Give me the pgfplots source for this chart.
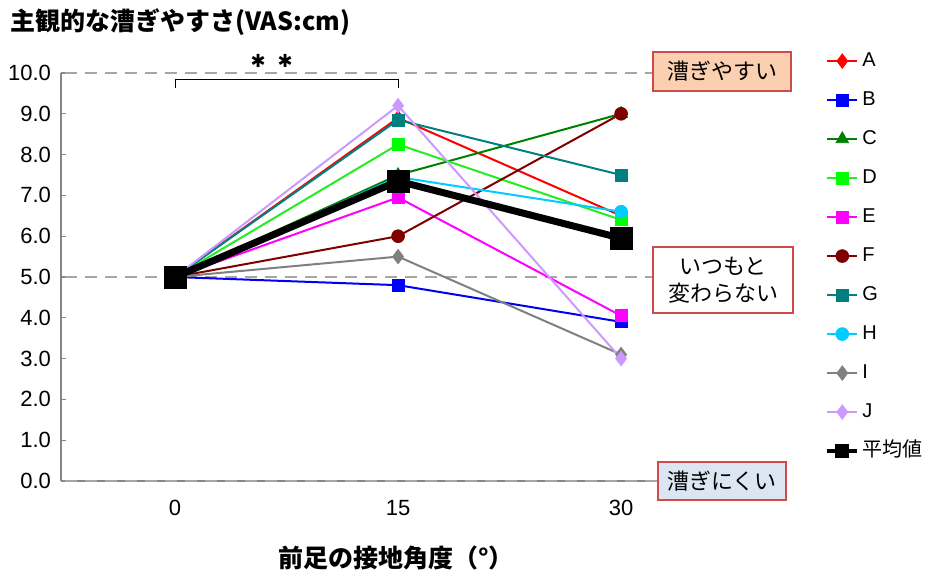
\documentclass[border=0pt]{standalone}
\usepackage{fontspec}
\setmainfont{Liberation Sans}
\newfontfamily\cjk{Noto Sans CJK JP}
\newfontfamily\dejavu{DejaVu Sans}
\usepackage{pgfplots}
\pgfplotsset{compat=1.18}
\usetikzlibrary{plotmarks}
\definecolor{cA}{HTML}{FF0000}
\definecolor{cB}{HTML}{0000EE}
\definecolor{cC}{HTML}{008000}
\definecolor{cD}{HTML}{22EE22}
\definecolor{cDm}{HTML}{00FF00}
\definecolor{cE}{HTML}{FF00FF}
\definecolor{cF}{HTML}{800000}
\definecolor{cG}{HTML}{008080}
\definecolor{cH}{HTML}{00CCFF}
\definecolor{cI}{HTML}{808080}
\definecolor{cJ}{HTML}{CC99FF}
\definecolor{dashgray}{HTML}{A6A6A6}
\definecolor{axgray}{HTML}{868686}
\definecolor{boxred}{HTML}{D04A4A}
\definecolor{boxorange}{HTML}{FBD0B0}
\definecolor{boxblue}{HTML}{DCE6F2}
\begin{document}
\begin{tikzpicture}
\path[use as bounding box] (0,0) rectangle (462.5pt,287pt);
\begin{axis}[
  at={(30.5pt,46.5pt)}, anchor=south west,
  scale only axis, width=297pt, height=204pt,
  xmin=-7.67, xmax=32.28, ymin=0, ymax=10,
  axis x line*=bottom, axis y line*=left,
  axis line style={draw=axgray, line width=1pt, -},
  xtick={0,15,30},
  ytick={0,1,...,10},
  /pgf/number format/assume math mode=true,
  yticklabel={\pgfmathprintnumber[fixed,fixed zerofill,precision=1]{\tick}},
  tick label style={font=\fontsize{11}{13}\selectfont},
  xticklabel style={yshift=-6pt},
  yticklabel style={xshift=-1.5pt},
  tick align=inside, major tick length=2.5pt,
  ytick style={draw=axgray, line width=0.6pt},
  xtick style={draw=none},
  clip=false,
  legend style={at={(1.286,1.078)}, anchor=north west, draw=none, fill=none,
    inner sep=0pt, row sep=0pt, font=\fontsize{10}{11}\selectfont,
    nodes={inner sep=0pt, inner xsep=1.5pt, text height=12.4pt, text depth=7.1pt}},
  legend cell align=left,
  legend image code/.code={\draw[mark repeat=2,mark phase=2,#1] plot coordinates {(0pt,0pt) (7.5pt,0pt) (15pt,0pt)};},
]
% reference lines
\draw[dashgray, line width=1.3pt, dash pattern=on 6pt off 4pt] (axis cs:-7.4,10) -- (axis cs:32.15,10);
\draw[dashgray, line width=1.3pt, dash pattern=on 6pt off 4pt] (axis cs:-7.4,5) -- (axis cs:32.15,5);
\draw[dashgray, line width=1.3pt, dash pattern=on 6pt off 4pt] (axis cs:-7.4,0) -- (axis cs:32.45,0);
% bracket
\draw[black, line width=0.5pt] (axis cs:0,9.63) -- (axis cs:0,9.83) -- (axis cs:15,9.83) -- (axis cs:15,9.63);
\node[font=\dejavu\fontsize{9}{11}\selectfont] at (axis cs:6.5,10.3) {✱\hspace{6pt}✱};

\addplot[cA, line width=1pt, mark=diamond*, mark size=3.6pt, mark options={line width=0.4pt}] coordinates {(0,5) (15,8.9) (30,6.5)};
\addlegendentry{A}
\addplot[cB, line width=1pt, mark=square*, mark size=3pt, mark options={line width=0.4pt, fill=blue, draw=blue}] coordinates {(0,5) (15,4.8) (30,3.9)};
\addlegendentry{B}
\addplot[cC, line width=1pt, mark=triangle*, mark size=3.6pt, mark options={line width=0.4pt}] coordinates {(0,5) (15,7.5) (30,9.0)};
\addlegendentry{C}
\addplot[cD, line width=1pt, mark=square*, mark size=3pt, mark options={line width=0.4pt, fill=cDm, draw=cDm}] coordinates {(0,5) (15,8.25) (30,6.4)};
\addlegendentry{D}
\addplot[cE, line width=1pt, mark=square*, mark size=3pt, mark options={line width=0.4pt}] coordinates {(0,5) (15,6.95) (30,4.05)};
\addlegendentry{E}
\addplot[cF, line width=1pt, mark=*, mark size=3.2pt, mark options={line width=0.4pt}] coordinates {(0,5) (15,6.0) (30,9.0)};
\addlegendentry{F}
\addplot[cG, line width=1pt, mark=square*, mark size=3pt, mark options={line width=0.4pt}] coordinates {(0,5) (15,8.85) (30,7.5)};
\addlegendentry{G}
\addplot[cH, line width=1pt, mark=*, mark size=3.2pt, mark options={line width=0.4pt}] coordinates {(0,5) (15,7.45) (30,6.6)};
\addlegendentry{H}
\addplot[cI, line width=1pt, mark=diamond*, mark size=3.6pt, mark options={line width=0.4pt}] coordinates {(0,5) (15,5.5) (30,3.1)};
\addlegendentry{I}
\addplot[cJ, line width=1pt, mark=diamond*, mark size=3.6pt, mark options={line width=0.4pt}] coordinates {(0,5) (15,9.2) (30,3.0)};
\addlegendentry{J}
\addplot[black, line width=3.5pt, mark=square*, mark size=5.5pt, mark options={line width=0.4pt}, forget plot] coordinates {(0,5) (15,7.35) (30,5.95)};
\addlegendimage{black, line width=2pt, mark=square*, mark size=3.3pt, mark options={line width=0.4pt}}
\addlegendentry{\cjk 平均値}
\end{axis}
% annotation boxes
\draw[draw=boxred, fill=boxorange, line width=0.7pt] (326.5pt,241.5pt) rectangle (395.5pt,261pt);
\node[font=\cjk\fontsize{11}{13}\selectfont] at (361pt,251.3pt) {漕ぎやすい};
\draw[draw=boxred, fill=white, line width=0.7pt] (326.5pt,130.5pt) rectangle (396.5pt,163.5pt);
\node[font=\cjk\fontsize{11}{13.5}\selectfont, align=center] at (361.5pt,147pt) {いつもと\\変わらない};
\draw[draw=boxred, fill=boxblue, line width=0.7pt] (329pt,37pt) rectangle (393pt,56pt);
\node[font=\cjk\fontsize{11}{13}\selectfont] at (361pt,46.5pt) {漕ぎにくい};
% titles
\node[anchor=west, inner sep=0pt, font=\cjk\bfseries\fontsize{12.5}{15}\selectfont] at (5pt,276pt) {主観的な漕ぎやすさ(VAS:cm)};
\node[inner sep=0pt, font=\cjk\bfseries\fontsize{12.5}{15}\selectfont] at (198pt,8pt) {前足の接地角度（°）};
\end{tikzpicture}
\end{document}
